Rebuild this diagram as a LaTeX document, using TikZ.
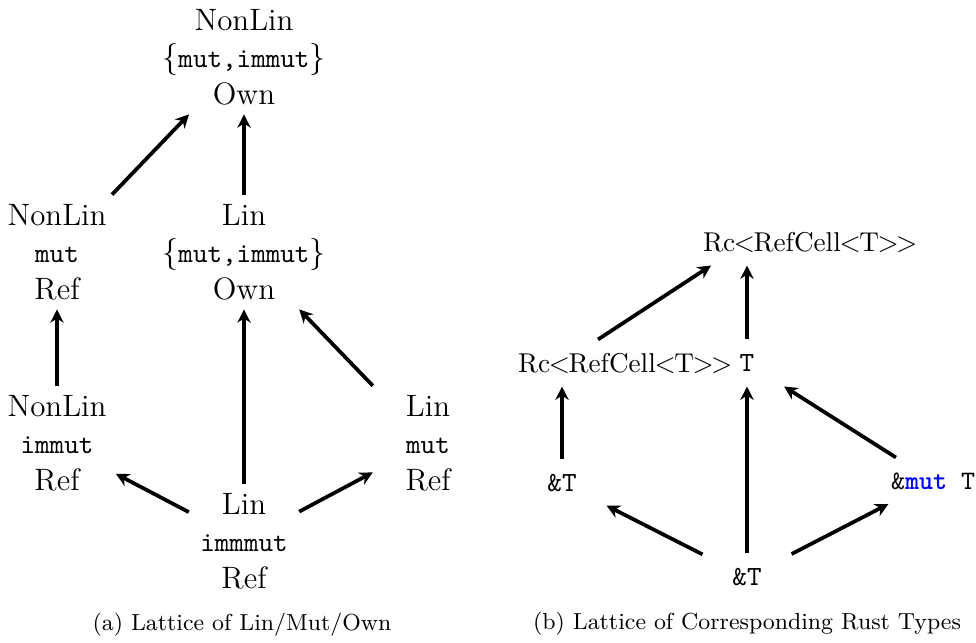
\documentclass[tikz,border=0pt]{standalone}
\usetikzlibrary{arrows.meta}

% tight angle brackets for the Rust generic types
\newcommand{\rlt}{\kern-.5pt<\kern-.5pt}
\newcommand{\rgt}{\kern-.5pt>\kern-.5pt}
% code words set a little smaller than the running text
\newcommand{\code}[1]{{\fontsize{10.4}{13}\selectfont\ttfamily #1}}

\tikzset{
  lat/.style={align=center, minimum width=41pt,
    font=\fontsize{11.6}{13.9}\selectfont},
  rust/.style={inner xsep=0pt, minimum width=33pt,
    minimum height=17.25pt, font=\fontsize{10.2}{13}\selectfont},
  capt/.style={font=\fontsize{8.7}{11}\selectfont},
  up/.style={line width=1.4pt,
    -{Stealth[length=5pt,width=5pt,inset=1.6pt]}}
}

\begin{document}
\begin{tikzpicture}[x=0.375pt,y=-0.375pt]
  \useasboundingbox (0,0) rectangle (976,642);

  % (a) lattice of linearity / mutability / ownership
  \node[lat] (top) at (244,57)  {NonLin\\ $\{$\code{mut,immut}$\}$\\ Own};
  \node[lat] (mL)  at (57,252)  {NonLin\\ \code{mut}\\ Ref};
  \node[lat] (mC)  at (244,252) {Lin\\ $\{$\code{mut,immut}$\}$\\ Own};
  \node[lat] (lL)  at (57,443)  {NonLin\\ \code{immut}\\ Ref};
  \node[lat] (lR)  at (428,443) {Lin\\ \code{mut}\\ Ref};
  \node[lat] (bot) at (244,541) {Lin\\ \code{immmut}\\ Ref};

  \draw[up] (mL)  -- (top);
  \draw[up] (mC)  -- (top);
  \draw[up] (lL)  -- (mL);
  \draw[up] (bot) -- (mC);
  \draw[up] (lR)  -- (mC);
  \draw[up] (bot) -- (lL);
  \draw[up] (bot) -- (lR);

  \node[capt] (capA) at (242,625) {(a) Lattice of Lin/Mut/Own};

  % (b) the corresponding Rust types
  \node[rust] (rTop) at (747,242)
    {\makebox[33pt][l]{Rc\rlt RefCell\rlt T\rgt\rgt}};
  \node[rust] (rRc)  at (562,363)
    {\makebox[33pt][l]{Rc\rlt RefCell\rlt T\rgt\rgt}};
  \node[rust] (rT)   at (747,363) {\code{T}};
  \node[rust] (rRef) at (562,483) {\code{\&T}};
  \node[rust] (rMut) at (933,481)
    {{\fontsize{10}{13}\selectfont\ttfamily\&\textcolor{blue}{\textbf{mut}} T}};
  \node[rust] (rBot) at (747,577) {\code{\&T}};

  \draw[up] (rRc)  -- (rTop);
  \draw[up] (rT)   -- (rTop);
  \draw[up] (rRef) -- (rRc);
  \draw[up] (rBot) -- (rT);
  \draw[up] (rMut) -- (rT);
  \draw[up] (rBot) -- (rRef);
  \draw[up] (rBot) -- (rMut);

  \node[capt] (capB) at (747,624) {(b) Lattice of Corresponding Rust Types};
\end{tikzpicture}
\end{document}
